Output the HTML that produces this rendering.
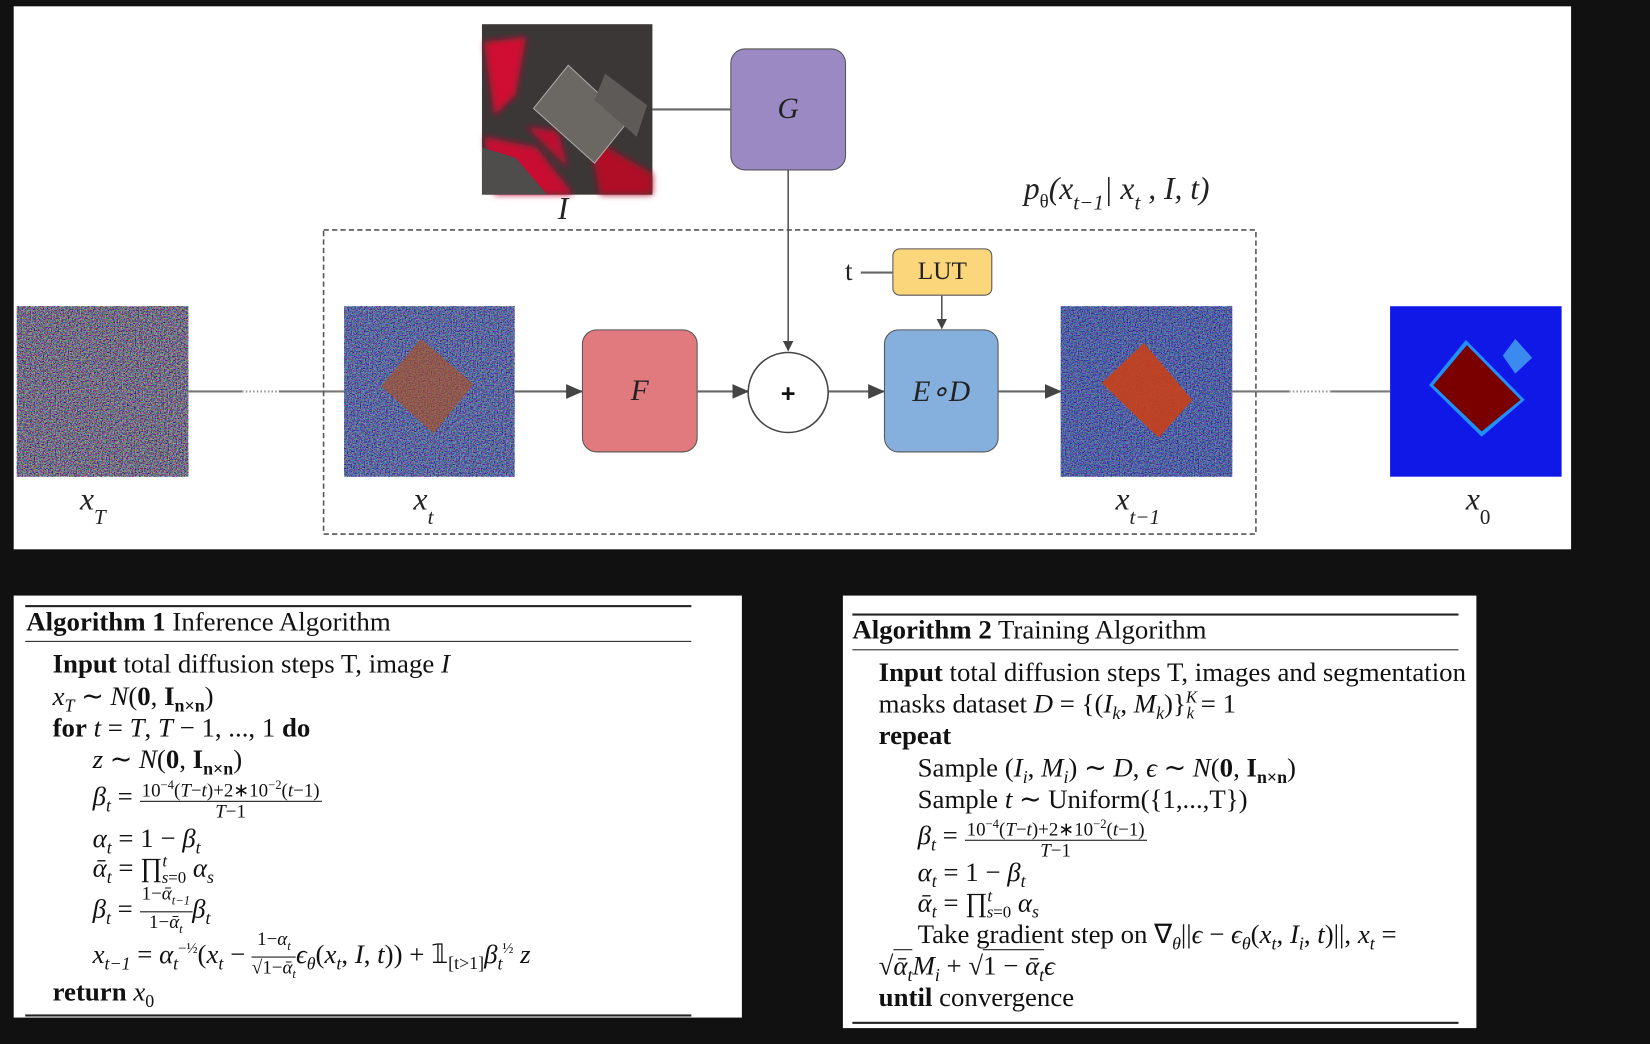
<!DOCTYPE html>
<html><head><meta charset="utf-8">
<style>
html,body{margin:0;padding:0;background:#111;}
body{width:1650px;height:1044px;overflow:hidden;position:relative;}
#w{position:absolute;left:0;top:0;width:1568px;height:992px;transform:scale(1.0523);transform-origin:0 0;font-family:"Liberation Serif",serif;}
.a{position:absolute;}
.box{position:absolute;border:1.5px solid #555;border-radius:14px;box-sizing:border-box;display:flex;align-items:center;justify-content:center;font-style:italic;font-size:28px;color:#222;}
.lbl{position:absolute;font-style:italic;font-size:30px;color:#222;}
.lbl sub{font-size:20px;vertical-align:-14px;}
.alg{position:absolute;background:#fff;}
.rule{position:absolute;background:#222;}
.ln{position:absolute;font-size:25.5px;color:#111;white-space:nowrap;}
.ln b{font-weight:bold;}
i{font-style:italic;}
.fr{display:inline-block;vertical-align:middle;text-align:center;font-size:18px;line-height:19px;}
.fr .n{border-bottom:1px solid #111;padding:0 2px;}
.sq{border-top:1.5px solid #111;}
</style></head><body><div id="w">
<div class="a" style="left:13px;top:6px;width:1480px;height:516px;background:#fff;"></div>

<svg class="a" style="left:0;top:0" width="1568" height="530">
<defs>
<filter id="nz" x="0" y="0" width="100%" height="100%"><feTurbulence type="fractalNoise" baseFrequency="0.8" numOctaves="2" seed="3"/><feColorMatrix type="matrix" values="3 0 0 0 -1.1  0 3 0 0 -1.1  0 0 3 0 -1.0  0 0 0 0 1"/></filter>
<filter id="bl"><feGaussianBlur stdDeviation="3"/></filter>
<marker id="ar" markerWidth="10" markerHeight="10" refX="9" refY="5" orient="auto" markerUnits="userSpaceOnUse"><path d="M0,0 L10,5 L0,10 z" fill="#444"/></marker>
<marker id="ar2" markerWidth="16" markerHeight="14" refX="15" refY="7" orient="auto" markerUnits="userSpaceOnUse"><path d="M0,0 L16,7 L0,14 z" fill="#444"/></marker>
</defs>
<rect x="458" y="23" width="162" height="162" fill="#3a3736"/>
<g filter="url(#bl)">
<path d="M460,40 L500,35 L490,90 L470,110 z" fill="#d01030"/>
<path d="M460,130 L510,140 L545,185 L470,185 z" fill="#c81030"/>
<path d="M560,130 L620,165 L620,185 L570,185 z" fill="#b01028"/>
<path d="M500,120 L530,125 L540,160 z" fill="#c01030"/>
</g>
<polygon points="540,62 597,115 565,155 507,103" fill="#6b6762" stroke="#aaa"/>
<polygon points="575,70 615,100 605,130 565,95" fill="#5d5a57"/>
<polygon points="458,140 490,150 520,185 458,185" fill="#4f4d4b"/>
<rect x="16" y="291" width="163" height="162" fill="#3a2a4a"/>
<rect x="16" y="291" width="163" height="162" filter="url(#nz)" opacity="0.6"/>
<rect x="327" y="291" width="162" height="162" fill="#1e3390"/>
<rect x="327" y="291" width="162" height="162" filter="url(#nz)" opacity="0.5"/>
<polygon points="400,322 450,365 412,412 362,367" fill="#b0501c" opacity="0.6"/>
<rect x="1008" y="291" width="163" height="162" fill="#16309a"/>
<rect x="1008" y="291" width="163" height="162" filter="url(#nz)" opacity="0.45"/>
<polygon points="1087,326 1133,380 1101,416 1047,364" fill="#c8401a" opacity="0.9"/>
<rect x="1321" y="291" width="163" height="162" fill="#1018e8"/>
<polygon points="1440,322 1456,340 1440,355 1428,338" fill="#3a8af0"/>
<polygon points="1393,323 1449,380 1408,415 1358,366" fill="#2090ff"/>
<polygon points="1394,328 1445,380 1408,410 1362,366" fill="#7a0000"/>
<line x1="620" y1="104" x2="694" y2="104" stroke="#666" stroke-width="2"/>
<line x1="749" y1="162" x2="749" y2="333" stroke="#555" stroke-width="1.5" marker-end="url(#ar)"/>
<line x1="818" y1="259" x2="848" y2="259" stroke="#666" stroke-width="2"/>
<line x1="895" y1="281" x2="895" y2="312" stroke="#555" stroke-width="1.5" marker-end="url(#ar)"/>
<line x1="179" y1="372" x2="230" y2="372" stroke="#777" stroke-width="2"/>
<line x1="230" y1="372" x2="265" y2="372" stroke="#999" stroke-width="2" stroke-dasharray="1.5 2"/>
<line x1="265" y1="372" x2="327" y2="372" stroke="#777" stroke-width="2"/>
<line x1="489" y1="372" x2="553" y2="372" stroke="#666" stroke-width="2" marker-end="url(#ar2)"/>
<line x1="663" y1="372" x2="711" y2="372" stroke="#666" stroke-width="2" marker-end="url(#ar2)"/>
<line x1="787" y1="372" x2="840" y2="372" stroke="#666" stroke-width="2" marker-end="url(#ar2)"/>
<line x1="949" y1="372" x2="1008" y2="372" stroke="#666" stroke-width="2" marker-end="url(#ar2)"/>
<line x1="1171" y1="372" x2="1225" y2="372" stroke="#777" stroke-width="2"/>
<line x1="1225" y1="372" x2="1265" y2="372" stroke="#999" stroke-width="2" stroke-dasharray="1.5 2"/>
<line x1="1265" y1="372" x2="1321" y2="372" stroke="#777" stroke-width="2"/>
<rect x="307.5" y="218.5" width="886" height="289" fill="none" stroke="#555" stroke-width="1.5" stroke-dasharray="5 3"/>
<circle cx="749" cy="373" r="38" fill="#fff" stroke="#444" stroke-width="1.5"/>
<text x="749" y="382" text-anchor="middle" font-family="Liberation Sans" font-weight="bold" font-size="24" fill="#111">+</text>
</svg>

<div class="box" style="left:694px;top:46px;width:110px;height:116px;background:#9b89c4;">G</div>
<div class="box" style="left:553px;top:313px;width:110px;height:117px;background:#e07a7e;">F</div>
<div class="box" style="left:840px;top:313px;width:109px;height:117px;background:#85afdc;">E∘D</div>
<div class="box" style="left:848px;top:236px;width:95px;height:45px;background:#fcd67a;border-radius:7px;font-style:normal;font-size:24px;">LUT</div>
<div class="a" style="left:803px;top:243px;font-size:26px;color:#222;">t</div>

<div class="lbl" style="left:530px;top:182px;">I</div>
<div class="lbl" style="left:973px;top:163px;">p<sub style="font-style:normal;font-size:18px;vertical-align:-8px">θ</sub>(x<sub style="vertical-align:-10px">t−1</sub>| x<sub style="vertical-align:-10px">t</sub> , I, t)</div>
<div class="lbl" style="left:76px;top:458px;">x<sub>T</sub></div>
<div class="lbl" style="left:393px;top:458px;">x<sub>t</sub></div>
<div class="lbl" style="left:1060px;top:458px;">x<sub>t−1</sub></div>
<div class="lbl" style="left:1393px;top:458px;">x<sub style="font-style:normal">0</sub></div>

<div class="alg" style="left:13px;top:566px;width:692px;height:401px;"></div>
<div class="rule" style="left:24px;top:575px;width:633px;height:2px;"></div>
<div class="rule" style="left:24px;top:609px;width:633px;height:1px;"></div>
<div class="rule" style="left:24px;top:964px;width:633px;height:2px;"></div>
<div class="ln" style="left:25px;top:576px;"><b>Algorithm 1</b> Inference Algorithm</div>
<div class="ln" style="left:50px;top:616px;"><b>Input</b> total diffusion steps T, image <i>I</i></div>
<div class="ln" style="left:50px;top:647px;"><i>x<sub style="font-size:17px">T</sub></i> ∼ <i>N</i>(<b>0</b>, <b>I<sub style="font-size:17px">n×n</sub></b>)</div>
<div class="ln" style="left:50px;top:677px;"><b>for</b> <i>t</i> = <i>T</i>, <i>T</i> − 1, ..., 1 <b>do</b></div>
<div class="ln" style="left:88px;top:707px;"><i>z</i> ∼ <i>N</i>(<b>0</b>, <b>I<sub style="font-size:17px">n×n</sub></b>)</div>
<div class="ln" style="left:88px;top:737px;"><i>β<sub style="font-size:17px">t</sub></i> = <span class="fr"><div class="n">10<sup style="font-size:12px">−4</sup>(<i>T</i>−<i>t</i>)+2∗10<sup style="font-size:12px">−2</sup>(<i>t</i>−1)</div><div><i>T</i>−1</div></span></div>
<div class="ln" style="left:88px;top:782px;"><i>α<sub style="font-size:17px">t</sub></i> = 1 − <i>β<sub style="font-size:17px">t</sub></i></div>
<div class="ln" style="left:88px;top:810px;"><i>ᾱ<sub style="font-size:17px">t</sub></i> = ∏<sup style="font-size:16px"><i>t</i></sup><sub style="font-size:16px;margin-left:-5px"><i>s</i>=0</sub> <i>α<sub style="font-size:17px">s</sub></i></div>
<div class="ln" style="left:88px;top:840px;"><i>β<sub style="font-size:17px">t</sub></i> = <span class="fr"><div class="n">1−<i>ᾱ<sub style="font-size:12px">t−1</sub></i></div><div>1−<i>ᾱ<sub style="font-size:12px">t</sub></i></div></span><i>β<sub style="font-size:17px">t</sub></i></div>
<div class="ln" style="left:88px;top:883px;"><i>x<sub style="font-size:17px">t−1</sub></i> = <i>α<sub style="font-size:17px">t</sub></i><sup style="font-size:14px">−½</sup>(<i>x<sub style="font-size:17px">t</sub></i> − <span class="fr"><div class="n">1−<i>α<sub style="font-size:12px">t</sub></i></div><div>√1−<i>ᾱ<sub style="font-size:12px">t</sub></i></div></span><i>ϵ<sub style="font-size:17px">θ</sub></i>(<i>x<sub style="font-size:17px">t</sub></i>, <i>I</i>, <i>t</i>)) + 𝟙<sub style="font-size:17px">[t&gt;1]</sub><i>β<sub style="font-size:17px">t</sub></i><sup style="font-size:14px">½</sup> <i>z</i></div>
<div class="ln" style="left:50px;top:928px;"><b>return</b> <i>x</i><sub style="font-size:17px">0</sub></div>

<div class="alg" style="left:801px;top:566px;width:602px;height:411px;"></div>
<div class="rule" style="left:810px;top:583px;width:576px;height:2px;"></div>
<div class="rule" style="left:810px;top:617px;width:576px;height:1px;"></div>
<div class="rule" style="left:810px;top:971px;width:576px;height:2px;"></div>
<div class="ln" style="left:810px;top:584px;"><b>Algorithm 2</b> Training Algorithm</div>
<div class="ln" style="left:835px;top:624px;"><b>Input</b> total diffusion steps T, images and segmentation</div>
<div class="ln" style="left:835px;top:654px;">masks dataset <i>D</i> = {(<i>I<sub style="font-size:17px">k</sub></i>, <i>M<sub style="font-size:17px">k</sub></i>)}<sup style="font-size:16px"><i>K</i></sup><sub style="font-size:16px;margin-left:-10px"><i>k</i></sub> = 1</div>
<div class="ln" style="left:835px;top:684px;"><b>repeat</b></div>
<div class="ln" style="left:872px;top:715px;">Sample (<i>I<sub style="font-size:17px">i</sub></i>, <i>M<sub style="font-size:17px">i</sub></i>) ∼ <i>D</i>, <i>ϵ</i> ∼ <i>N</i>(<b>0</b>, <b>I<sub style="font-size:17px">n×n</sub></b>)</div>
<div class="ln" style="left:872px;top:745px;">Sample <i>t</i> ∼ Uniform({1,...,T})</div>
<div class="ln" style="left:872px;top:774px;"><i>β<sub style="font-size:17px">t</sub></i> = <span class="fr"><div class="n">10<sup style="font-size:12px">−4</sup>(<i>T</i>−<i>t</i>)+2∗10<sup style="font-size:12px">−2</sup>(<i>t</i>−1)</div><div><i>T</i>−1</div></span></div>
<div class="ln" style="left:872px;top:814px;"><i>α<sub style="font-size:17px">t</sub></i> = 1 − <i>β<sub style="font-size:17px">t</sub></i></div>
<div class="ln" style="left:872px;top:843px;"><i>ᾱ<sub style="font-size:17px">t</sub></i> = ∏<sup style="font-size:16px"><i>t</i></sup><sub style="font-size:16px;margin-left:-5px"><i>s</i>=0</sub> <i>α<sub style="font-size:17px">s</sub></i></div>
<div class="ln" style="left:872px;top:873px;">Take gradient step on ∇<sub style="font-size:17px"><i>θ</i></sub>||<i>ϵ</i> − <i>ϵ<sub style="font-size:17px">θ</sub></i>(<i>x<sub style="font-size:17px">t</sub></i>, <i>I<sub style="font-size:17px">i</sub></i>, <i>t</i>)||, <i>x<sub style="font-size:17px">t</sub></i> =</div>
<div class="ln" style="left:835px;top:903px;">√<span class="sq"><i>ᾱ<sub style="font-size:17px">t</sub></i></span><i>M<sub style="font-size:17px">i</sub></i> + √<span class="sq">1 − <i>ᾱ<sub style="font-size:17px">t</sub></i></span><i>ϵ</i></div>
<div class="ln" style="left:835px;top:933px;"><b>until</b> convergence</div>
</div></body></html>
